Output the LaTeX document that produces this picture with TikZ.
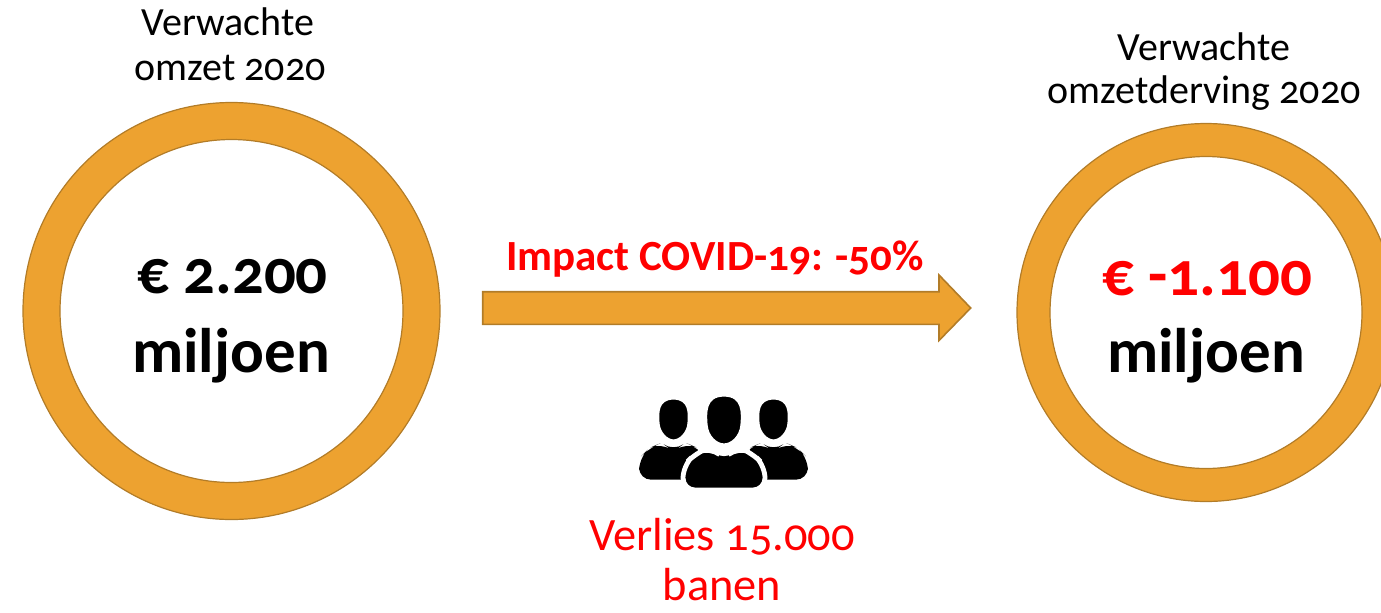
\documentclass[tikz,border=0pt]{standalone}
\usepackage{fontspec}
\setmainfont{Carlito}[Numbers=OldStyle]
\usetikzlibrary{calc}
\definecolor{oranje}{RGB}{237,162,48}
\definecolor{oranjerand}{RGB}{178,124,40}
\definecolor{rood}{RGB}{255,0,0}

\begin{document}
\begin{tikzpicture}[x=0.5pt, y=-0.5pt,
	kop/.style={anchor=base, font=\fontsize{20}{24}\selectfont},
	bedrag/.style={anchor=base, font=\fontsize{31.5}{37}\selectfont\bfseries},
	ring/.style={fill=oranje, even odd rule},
	rand/.style={draw=oranjerand, line width=0.6pt},
	poppetje/.style={fill=black, draw=white, line width=1.6pt, rounded corners=6pt}]
	\useasboundingbox (0,0) rectangle (1381,612);
	\coordinate (L) at (231.5,311);
	\coordinate (R) at (1206,312.5);
%	ringen
	\fill[ring] (L) circle (208.5) (L) circle (171.5);
	\draw[rand] (L) circle (208.5) (L) circle (171.5);
	\fill[ring] (R) circle (189) (R) circle (156);
	\draw[rand] (R) circle (189) (R) circle (156);
	\node[kop] (kopL1) at (228,35) {Verwachte};
	\node[kop] (kopL2) at (230,80) {omzet 2020};
	\node[kop] (kopR1) at (1204,60) {Verwachte};
	\node[kop] (kopR2) at (1204,103) {omzetderving 2020};
	\node[bedrag] (bedragL) at (232.5,293) {€ 2.200};
	\node[bedrag] (eenheidL) at (231,372) {miljoen};
	\node[bedrag, text=rood] (bedragR) at (1207,295) {€ -1.100};
	\node[bedrag] (eenheidR) at (1206,372) {miljoen};
%	pijl
	\filldraw[fill=oranje, draw=oranjerand, line width=0.8pt] (482.7,291.7) -- (939,291.7) -- (939,275)
		-- (970.7,308) -- (939,340.5) -- (939,324.3) -- (482.7,324.3) -- cycle;
	\node[anchor=base, text=rood, font=\fontsize{21.5}{26}\selectfont\bfseries] (impact) at (715,270) {Impact COVID-19: -50\%};
%	mensen
	\foreach \x in {673.5, 773.5} {
		\begin{scope}[shift={(\x,441)}, scale=0.86]
			\fill[poppetje, draw=none] (-40,45) -- (-40,20) -- (-28,8) -- (-14,2) -- (0,12)
				-- (14,2) -- (28,8) -- (40,20) -- (40,45) -- cycle;
			\filldraw[poppetje, rounded corners=0pt] (0,-50) .. controls (20,-50) and (19,-32) .. (18,-20)
				.. controls (17,-9) and (8,0) .. (0,0) .. controls (-8,0) and (-17,-9) .. (-18,-20)
				.. controls (-19,-32) and (-20,-50) .. (0,-50) -- cycle;
		\end{scope}
	}
	\begin{scope}[shift={(724,446)}]
		\filldraw[poppetje, line width=2.4pt] (-41,44) -- (-41,20) -- (-28,7) -- (-14,1) -- (0,12)
			-- (14,1) -- (28,7) -- (41,20) -- (41,44) -- cycle;
		\filldraw[poppetje, rounded corners=0pt] (0,-51) .. controls (20,-51) and (19,-33) .. (18,-21)
			.. controls (17,-9) and (8,-1) .. (0,-1) .. controls (-8,-1) and (-17,-9) .. (-18,-21)
			.. controls (-19,-33) and (-20,-51) .. (0,-51) -- cycle;
	\end{scope}
	\node[anchor=base, text=rood, font=\fontsize{23.2}{25}\selectfont] (verlies1) at (722,550) {Verlies 15.000};
	\node[anchor=base, text=rood, font=\fontsize{23.2}{25}\selectfont] (verlies2) at (722,600) {banen};

\end{tikzpicture}
\end{document}
